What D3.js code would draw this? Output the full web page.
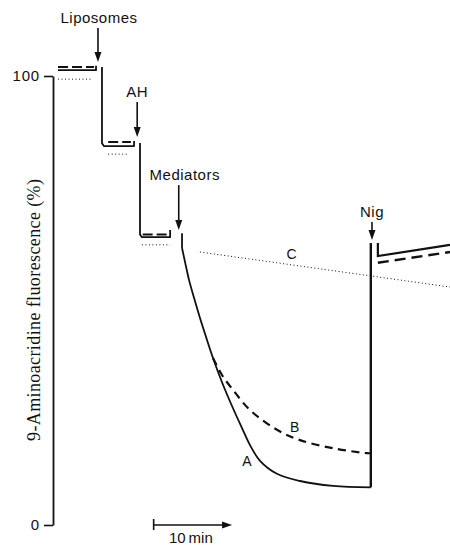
<!DOCTYPE html>
<html><head><meta charset="utf-8">
<script src="https://cdn.jsdelivr.net/npm/d3@7"></script>
<style>
html,body{margin:0;padding:0;background:#fff;}
svg{display:block;}
</style></head>
<body>
<svg id="chart" width="450" height="545"></svg>
<script>
// ---- data (time in min, fluorescence in %) ----
const solidSteps = [
  [[0,101.3],[4.85,101.3],[4.85,102.3]],
  [[5.61,102.0],[5.61,85.0],[5.85,84.4],[9.7,84.4],[9.7,85.5]],
  [[10.46,85.1],[10.46,64.7],[10.7,64.1],[14.3,64.1],[14.3,65.7]]
];
const curveA_t = [15.82,16.2,16.71,17.35,18.11,18.88,19.77,20.92,22.32,23.47,24.49,25.77,27.93,30.87,35.08,39.9];
const curveA_v = [61.7,58.6,54.6,50.6,46.1,41.9,37.2,31.8,26.0,21.6,17.8,14.3,11.4,9.8,8.7,8.4];
const mediatorDrop = [[15.82,65.0],[15.82,61.7]];
const nigJump = [[39.9,8.4],[39.9,62.8]];
const solidAfterNig = [[40.8,62.8],[40.8,59.9],[50,62.4]];

const dashedSteps = [
  [[0,102.0],[4.6,102.0]],
  [[6.4,85.3],[9.3,85.3]],
  [[10.8,64.7],[14.0,64.7]]
];
const curveB_t = [19.77,20.92,22.32,24.49,27.93,30.87,35.08,39.4,39.9];
const curveB_v = [37.2,33.4,30.1,25.6,21.2,18.9,17.1,16.0,16.0];
const dashedAfterNig = [[40.8,58.4],[50,60.8]];

const dottedSteps = [
  [[0,99.3],[4.3,99.3]],
  [[6.4,82.6],[8.9,82.6]],
  [[10.7,62.4],[14.3,62.4]]
];
const curveC = [[18.1,60.8],[50,53.0]];

const eventNames = ["Liposomes","AH","Mediators","Nig"];
const eventTimes = [5.1,10.1,15.4,40.05];
const eventTipLevels = [103.1,86.4,65.7,63.5];
const eventStartLevels = [110.7,94.2,75.7,67.5];

const curveLabels = ["A","B","C"];
const curveLabelT = [24.1,30.2,29.8];
const curveLabelV = [14.2,21.8,60.3];

const yTicks = [0,100];
const yTitle = "9-Aminoacridine fluorescence (%)";
const scaleBarStart = 12.2, scaleBarLength = 10, scaleBarText = "10\u2009min";

// ---- scales ----
const svg = d3.select("#chart");
const x = d3.scaleLinear().domain([0,50]).range([58,450]);
const y = d3.scaleLinear().domain([0,100]).range([525,76]);
const line = d3.line().x(d=>x(d[0])).y(d=>y(d[1]));
const smooth = d3.line().x(d=>x(d[0])).y(d=>y(d[1])).curve(d3.curveCatmullRom.alpha(0.5));
const sans = "'Liberation Sans', Arial, Helvetica, sans-serif";
const ink = "#111";

// ---- axis ----
const axisG = svg.append("g").attr("transform","translate(53,0)")
  .call(d3.axisLeft(y).tickValues(yTicks).tickSize(9).tickSizeOuter(0).tickPadding(4));
axisG.select(".domain").attr("stroke",ink).attr("stroke-width",1.8);
axisG.selectAll(".tick line").attr("stroke",ink).attr("stroke-width",1.6);
axisG.selectAll(".tick text").attr("font-family",sans).attr("font-size",15)
  .attr("letter-spacing","0.8px").attr("fill",ink);

svg.append("text").attr("transform","translate(40,310) rotate(-90)")
  .attr("text-anchor","middle").attr("font-family","'Liberation Serif','Times New Roman',serif")
  .attr("font-size",18).attr("fill",ink).attr("textLength",262).attr("lengthAdjust","spacing")
  .text(yTitle);

// ---- traces ----
const g = svg.append("g").attr("fill","none").attr("stroke",ink);
// dotted
dottedSteps.concat([curveC]).forEach(s=>{
  g.append("path").attr("d",line(s)).attr("stroke-width",1).attr("stroke-dasharray","1,2.5");
});
// dashed
dashedSteps.forEach(s=>{
  g.append("path").attr("d",line(s)).attr("stroke-width",2.2).attr("stroke-dasharray","10,4");
});
g.append("path").attr("d",smooth(curveB_t.map((t,i)=>[t,curveB_v[i]])))
  .attr("stroke-width",2.2).attr("stroke-dasharray","8,5.5");
g.append("path").attr("d",line(dashedAfterNig)).attr("stroke-width",2.4).attr("stroke-dasharray","11,6");
// solid
solidSteps.forEach(s=>{
  g.append("path").attr("d",line(s)).attr("stroke-width",1.8).attr("stroke-linejoin","round");
});
g.append("path").attr("d",line(mediatorDrop)).attr("stroke-width",1.8);
g.append("path").attr("d",smooth(curveA_t.map((t,i)=>[t,curveA_v[i]]))).attr("stroke-width",1.8);
g.append("path").attr("d",line(nigJump)).attr("stroke-width",2.4);
g.append("path").attr("d",line(solidAfterNig)).attr("stroke-width",2.2);

// ---- event arrows ----
eventNames.forEach((name,i)=>{
  const ax = x(eventTimes[i]), y0 = y(eventStartLevels[i]), y1 = y(eventTipLevels[i]);
  svg.append("line").attr("x1",ax).attr("x2",ax).attr("y1",y0).attr("y2",y1-8)
    .attr("stroke",ink).attr("stroke-width",1.6);
  svg.append("path").attr("d",`M${ax-3.5},${y1-10}L${ax+3.5},${y1-10}L${ax},${y1}Z`).attr("fill",ink);
  const dx = name==="Mediators" ? 6 : (name==="Liposomes"?1:0);
  svg.append("text").attr("x",ax+dx).attr("y",y0-5).attr("text-anchor","middle")
    .attr("font-family",sans).attr("font-size",15).attr("letter-spacing","0.5px")
    .attr("fill",ink).text(name);
});

// ---- curve labels ----
curveLabels.forEach((c,i)=>{
  svg.append("text").attr("x",x(curveLabelT[i])).attr("y",y(curveLabelV[i])+5)
    .attr("text-anchor","middle").attr("font-family",sans).attr("font-size",14)
    .attr("fill",ink).text(c);
});

// ---- time scale bar ----
const sb0 = x(scaleBarStart), sb1 = x(scaleBarStart+scaleBarLength), sby = y(0);
svg.append("line").attr("x1",sb0).attr("x2",sb1-8).attr("y1",sby).attr("y2",sby)
  .attr("stroke",ink).attr("stroke-width",1.6);
svg.append("line").attr("x1",sb0).attr("x2",sb0).attr("y1",sby-6).attr("y2",sby+5)
  .attr("stroke",ink).attr("stroke-width",1.6);
svg.append("path").attr("d",`M${sb1-10},${sby-3.5}L${sb1-10},${sby+3.5}L${sb1},${sby}Z`).attr("fill",ink);
svg.append("text").attr("x",(sb0+sb1)/2-2).attr("y",sby+18).attr("text-anchor","middle")
  .attr("font-family",sans).attr("font-size",15).attr("fill",ink).text(scaleBarText);
</script>
</body></html>
